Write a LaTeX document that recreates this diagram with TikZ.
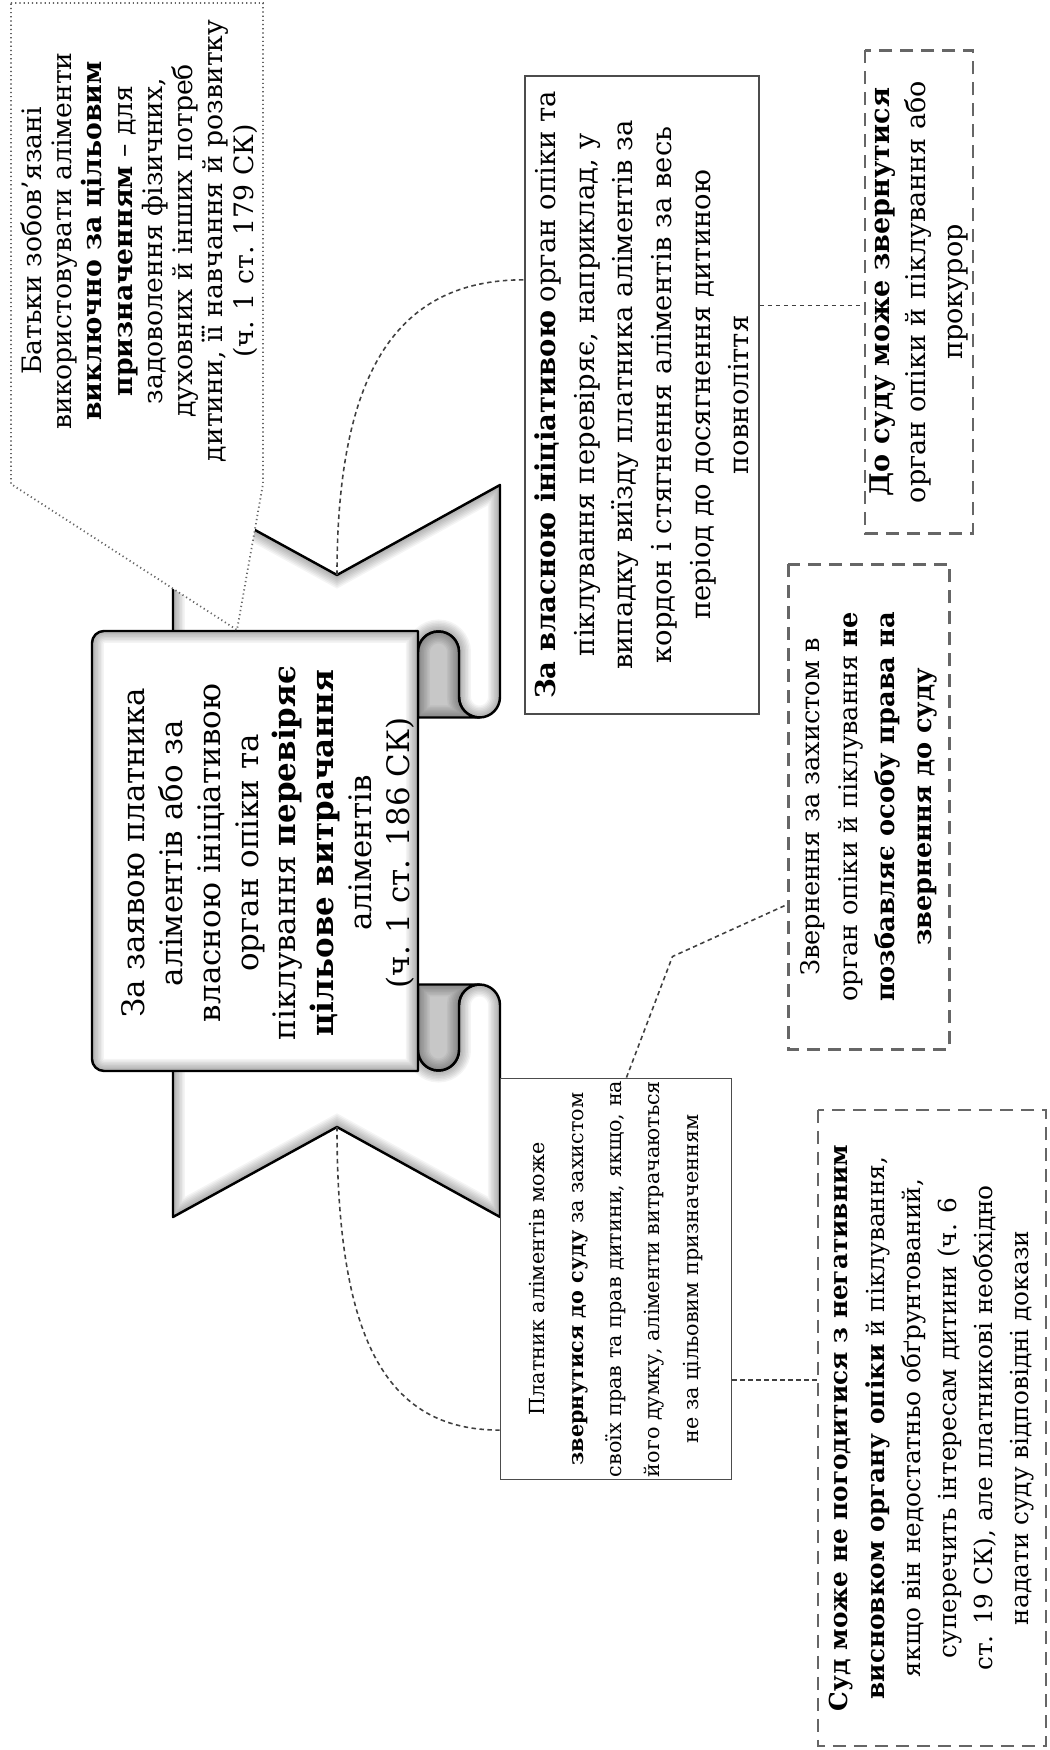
\documentclass[tikz,border=0pt]{standalone}
\usepackage{fontspec}
\setmainfont{DejaVu Serif}
\usetikzlibrary{calc}

\newcommand{\boxfont}{\fontsize{7.3}{10.6}\selectfont}
\newcommand{\sudfont}{\fontsize{7.05}{10.3}\selectfont}
\newcommand{\vlasnafont}{\fontsize{7.8}{11}\selectfont}
\newcommand{\dosudufont}{\fontsize{7.7}{10.3}\selectfont}
\newcommand{\platfont}{\fontsize{5.9}{10.9}\selectfont}
\newcommand{\scrollfont}{\fontsize{8.8}{10.75}\selectfont}
\newcommand{\notefont}{\fontsize{7.6}{8.6}\selectfont}

% ribbon pieces (landscape units, 1 = 0.1mm)
\newcommand{\tailpath}{(150,876) -- (366,876) -- (276,712) -- (366,549) -- (154,549)
  arc[start angle=270, end angle=90, radius=20.5] -- (199,590)
  arc[start angle=-90, end angle=90, radius=20.5] -- (150,631) -- cycle}
\newcommand{\rollpath}{(133.5,631) -- (133.5,569.5)
  arc[start angle=180, end angle=90, radius=20.5] -- (199,590)
  arc[start angle=-90, end angle=90, radius=20.5] -- cycle}
\newcommand{\panelpath}{(1119,631) -- (1119,945) arc[start angle=0, end angle=90, radius=12]
  -- (691,957) arc[start angle=90, end angle=180, radius=12] -- (679,631) -- cycle}
\newcommand{\innershadow}[1]{%
  \begin{scope}
    \clip #1;
    \foreach \w in {0.3,0.6,...,2.7} {\draw[black, opacity=0.045, line width=\w mm] #1;}
  \end{scope}}

\begin{document}
\begin{tikzpicture}[x=0.1mm, y=0.1mm, rotate=90, transform shape,
  ribbon/.style={draw=black, line width=0.7pt, line join=round},
  plainbox/.style={rectangle, draw=black!70, line width=0.55pt, fill=white, align=center, inner sep=0pt, font=\boxfont},
  dashbox/.style={plainbox, draw=black!60, line width=0.65pt, dash pattern=on 1.3mm off 0.8mm},
  link/.style={draw=black!75, line width=0.45pt, dash pattern=on 0.45mm off 0.35mm},
  note/.style={draw=black!60, line width=0.5pt, dash pattern=on 0.12mm off 0.3mm, fill=white}
]
  \useasboundingbox (0,0) rectangle (1750,1049);

  % tails and rolls, mirrored about the middle of the scroll
  \foreach \s in {1,-1} {
    \begin{scope}[shift={(899,0)}, xscale=\s]
      \fill[white] \tailpath;
      \innershadow{\tailpath}
      \draw[ribbon] \tailpath;
      \fill[black!22] \rollpath;
      \innershadow{\rollpath}
      \draw[ribbon] \rollpath;
    \end{scope}
  }

  % front of the scroll
  \fill[white] \panelpath;
  \innershadow{\panelpath}
  \draw[ribbon] \panelpath;
  \node[font=\scrollfont, align=center] (scrolltext) at (897,781)
    {За заявою платника\\ аліментів або за\\ власною ініціативою\\ орган опіки та\\
     піклування \textbf{перевіряє}\\ \textbf{цільове витрачання}\\ аліментів\\ (ч. 1 ст. 186 СК)};

  % callout
  \draw[note] (1747,1038) -- (1747,786) -- (1266,786) -- (1120,812) -- (1266,1038) -- cycle;
  \node[font=\notefont, align=center] (notetext) at (1509,910)
    {Батьки зобов’язані\\ використовувати аліменти\\ \textbf{виключно за цільовим}\\
     \textbf{призначенням} – для\\ задоволення фізичних,\\ духовних й інших потреб\\
     дитини, її навчання й розвитку\\ (ч. 1 ст. 179 СК)};

  % boxes
  \node[plainbox, font=\vlasnafont, minimum width=63.8mm, minimum height=23.4mm] (vlasna) at (1355,407)
    {\textbf{За власною ініціативою} орган опіки та\\ піклування перевіряє, наприклад, у\\
     випадку виїзду платника аліментів за\\ кордон і стягнення аліментів за весь\\
     період до досягнення дитиною\\ повноліття};
  \node[dashbox, font=\dosudufont, minimum width=48.3mm, minimum height=10.8mm] (dosudu) at (1458,130)
    {\textbf{До суду може звернутися}\\ орган опіки й піклування або\\ прокурор};
  \node[dashbox, minimum width=48.5mm, minimum height=16.1mm] (zvern) at (943,180)
    {Звернення за захистом в\\ орган опіки й піклування \textbf{не}\\
     \textbf{позбавляє особу права на}\\ \textbf{звернення до суду}};
  \node[dashbox, font=\sudfont, minimum width=63.6mm, minimum height=22.8mm] (sud) at (322,117)
    {\textbf{Суд може не погодитися з негативним}\\ \textbf{висновком органу опіки} й піклування,\\
     якщо він недостатньо обґрунтований,\\ суперечить інтересам дитини (ч. 6\\
     ст. 19 СК), але платникові необхідно\\ надати суду відповідні докази};
  \node[plainbox, font=\platfont, minimum width=40.1mm, minimum height=23.1mm] (platnyk) at (471,433)
    {Платник аліментів може\\ \textbf{звернутися до суду} за захистом\\
     своїх прав та прав дитини, якщо, на\\ його думку, аліменти витрачаються\\
     не за цільовим призначенням};

  % connectors
  \coordinate (notchU) at (1175,712);
  \coordinate (notchD) at (623,712);
  \coordinate (vlasnaIn) at ($(vlasna.north west)!0.68!(vlasna.north east)$);
  \coordinate (vlasnaOut) at ($(vlasna.south west)!0.64!(vlasna.south east)$);
  \coordinate (platIn) at ($(platnyk.north west)!0.125!(platnyk.north east)$);
  \coordinate (platOut) at ($(platnyk.south west)!0.25!(platnyk.south east)$);
  \coordinate (platSide) at ($(platnyk.south east)!0.455!(platnyk.north east)$);
  \coordinate (zvernIn) at ($(zvern.north west)!0.30!(zvern.north east)$);

  \draw[link] (notchU) .. controls +(205,0) and +(0,126) .. (vlasnaIn);
  \draw[link] (notchD) .. controls +(-210,0) and +(0,115) .. (platIn);
  \draw[link] (vlasnaOut) -- (vlasnaOut |- dosudu.north);
  \draw[link] (platOut) -- (platOut |- sud.north);
  \draw[link] (platSide) -- ++(121,-46) -- (zvernIn);
\end{tikzpicture}
\end{document}
